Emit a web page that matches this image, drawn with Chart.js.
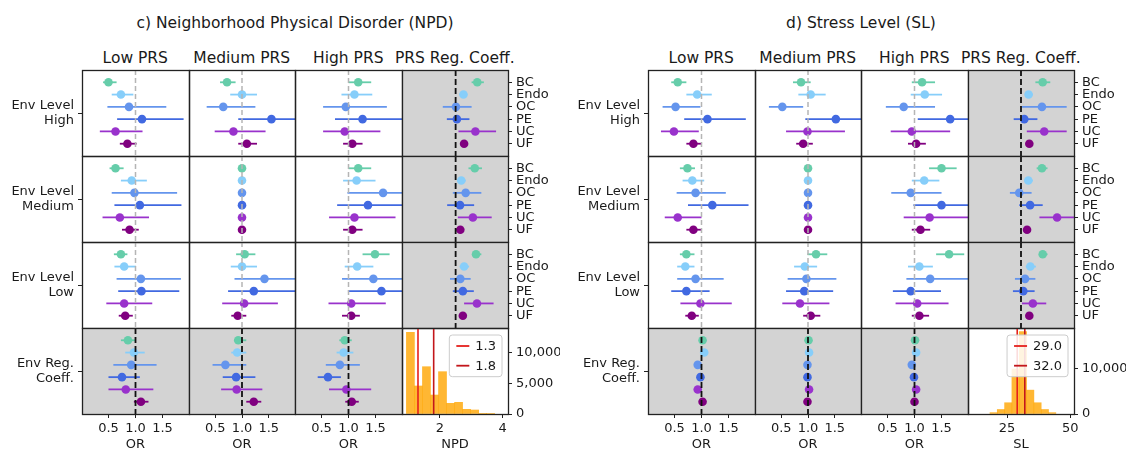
<!DOCTYPE html>
<html>
<head>
<meta charset="utf-8">
<script src="https://cdn.jsdelivr.net/npm/chart.js@4.4.1/dist/chart.umd.min.js"></script>
<style>
    html, body { margin: 0; padding: 0; background: #fff; }
    #figura {
        position: relative;
        width: 1130px;
        height: 450px;
        overflow: hidden;
        font-family: "DejaVu Sans", sans-serif;
        color: #1a1a1a;
    }
    .titulo {
        position: absolute;
        font-size: 15.5px;
        white-space: nowrap;
        transform: translate(-50%, -50%);
    }
    #figura canvas { position: absolute; }
</style>
</head>
<body>
<div id="figura"></div>
<script>
var categories = ["BC", "Endo", "OC", "PE", "UC", "UF"];
var categoryColors = ["#66cdaa", "#87cefa", "#6495ed", "#4169e1", "#9932cc", "#800080"];
var columnTitles = ["Low PRS", "Medium PRS", "High PRS", "PRS Reg. Coeff."];
var rowLabels = [["Env Level", "High"], ["Env Level", "Medium"], ["Env Level", "Low"], ["Env Reg.", "Coeff."]];
var orTicks = [0.5, 1.0, 1.5];

// each row: [estimate, lower, upper] for BC, Endo, OC, PE, UC, UF
// c) NPD
var npdHighLow  = [[0.50, 0.40, 0.65], [0.73, 0.56, 0.96], [0.88, 0.48, 1.57], [1.12, 0.66, 1.89], [0.63, 0.34, 1.13], [0.85, 0.71, 1.02]];
var npdHighMed  = [[0.72, 0.59, 0.88], [1.00, 0.78, 1.28], [0.65, 0.34, 1.25], [1.55, 0.93, 2.20], [0.84, 0.49, 1.44], [1.09, 0.93, 1.28]];
var npdHighHigh = [[1.18, 1.00, 1.42], [1.11, 0.87, 1.44], [0.95, 0.53, 1.71], [1.26, 0.75, 2.10], [0.93, 0.53, 1.59], [1.07, 0.90, 1.26]];
var npdHighReg  = [[3.19, 3.01, 3.40], [2.75, 2.62, 2.87], [2.51, 2.09, 3.01], [2.54, 2.22, 2.94], [3.13, 2.59, 3.79], [2.77, 2.65, 2.89]];

var npdMedLow  = [[0.63, 0.52, 0.78], [0.93, 0.73, 1.21], [0.98, 0.56, 1.77], [1.08, 0.61, 1.85], [0.71, 0.39, 1.25], [0.89, 0.75, 1.06]];
var npdMedMed  = [[1, 1, 1], [1, 1, 1], [1, 1, 1], [1, 1, 1], [1, 1, 1], [1, 1, 1]];
var npdMedHigh = [[1.18, 1.00, 1.42], [1.15, 0.90, 1.50], [1.64, 0.98, 2.10], [1.36, 0.79, 2.10], [1.11, 0.64, 1.87], [1.07, 0.90, 1.26]];
var npdMedReg  = [[3.11, 2.91, 3.34], [2.68, 2.55, 2.82], [2.82, 2.41, 3.32], [2.64, 2.23, 3.09], [3.05, 2.57, 3.65], [2.65, 2.55, 2.76]];

var npdLowLow  = [[0.73, 0.60, 0.85], [0.79, 0.61, 1.01], [1.10, 0.65, 1.84], [1.11, 0.68, 1.81], [0.79, 0.46, 1.31], [0.81, 0.69, 0.95]];
var npdLowMed  = [[1.05, 0.89, 1.25], [1.00, 0.79, 1.28], [1.42, 0.86, 2.10], [1.22, 0.74, 2.10], [1.04, 0.63, 1.67], [0.92, 0.80, 1.08]];
var npdLowHigh = [[1.49, 1.26, 1.76], [1.16, 0.93, 1.46], [1.46, 0.88, 2.10], [1.61, 0.99, 2.10], [1.05, 0.63, 1.69], [1.05, 0.88, 1.21]];
var npdLowReg  = [[3.15, 3.05, 3.32], [2.77, 2.63, 2.93], [2.65, 2.32, 2.98], [2.73, 2.41, 3.08], [3.18, 2.77, 3.71], [2.73, 2.65, 2.82]];

var npdEnvLow  = [[0.86, 0.73, 0.99], [0.97, 0.81, 1.17], [0.92, 0.59, 1.39], [0.75, 0.50, 1.08], [0.82, 0.50, 1.33], [1.10, 0.97, 1.24]];
var npdEnvMed  = [[0.93, 0.85, 1.08], [0.91, 0.80, 1.08], [0.69, 0.45, 1.08], [0.89, 0.64, 1.25], [0.90, 0.61, 1.38], [1.22, 1.08, 1.36]];
var npdEnvHigh = [[0.93, 0.83, 1.06], [0.91, 0.78, 1.09], [0.84, 0.58, 1.21], [0.62, 0.43, 0.86], [0.96, 0.64, 1.42], [1.06, 0.94, 1.19]];

var npdBinEdges = [0.93, 1.186, 1.442, 1.698, 1.954, 2.21, 2.466, 2.722, 2.978, 3.234, 3.49, 3.746];
var npdCounts = [13300, 4560, 7700, 3090, 6890, 1740, 1900, 760, 650, 110, 100];
var npdCutoffs = [1.3, 1.8];
var npdTicks = [2, 4];
var npdCountTicks = [0, 5000, 10000];
var npdRegReference = 2.5;

// d) SL
var slHighLow  = [[0.56, 0.44, 0.72], [0.92, 0.72, 1.19], [0.52, 0.28, 0.98], [1.11, 0.68, 1.82], [0.49, 0.25, 0.95], [0.85, 0.72, 1.01]];
var slHighMed  = [[0.87, 0.72, 1.05], [1.05, 0.82, 1.33], [0.52, 0.27, 0.91], [1.52, 0.95, 2.20], [0.99, 0.59, 1.69], [0.91, 0.78, 1.09]];
var slHighHigh = [[1.14, 0.95, 1.38], [1.19, 0.93, 1.51], [0.80, 0.47, 1.38], [1.66, 1.06, 2.20], [0.95, 0.56, 1.66], [1.03, 0.88, 1.21]];
var slHighReg  = [[39.1, 36.2, 42.1], [33.5, 32.1, 35.2], [38.8, 30.9, 48.6], [31.8, 27.6, 37.0], [39.7, 32.8, 48.6], [33.8, 32.4, 35.2]];

var slMedLow  = [[0.74, 0.60, 0.88], [0.83, 0.65, 1.05], [0.89, 0.54, 1.45], [1.20, 0.75, 1.87], [0.56, 0.32, 1.00], [0.85, 0.72, 1.01]];
var slMedMed  = [[1, 1, 1], [1, 1, 1], [1, 1, 1], [1, 1, 1], [1, 1, 1], [1, 1, 1]];
var slMedHigh = [[1.50, 1.27, 1.78], [1.18, 0.95, 1.46], [0.93, 0.57, 1.50], [1.50, 0.98, 2.20], [1.28, 0.80, 2.20], [1.11, 0.95, 1.29]];
var slMedReg  = [[38.8, 36.7, 41.0], [33.4, 31.9, 35.2], [29.8, 26.1, 34.7], [34.1, 29.8, 39.1], [44.8, 37.8, 53.0], [32.9, 31.6, 34.4]];

var slLowLow  = [[0.72, 0.60, 0.87], [0.70, 0.55, 0.87], [0.89, 0.55, 1.41], [0.72, 0.44, 1.15], [0.98, 0.61, 1.56], [0.82, 0.70, 0.95]];
var slLowMed  = [[1.15, 0.99, 1.36], [0.94, 0.74, 1.17], [0.97, 0.62, 1.53], [0.93, 0.59, 1.47], [0.85, 0.52, 1.40], [1.05, 0.91, 1.23]];
var slLowHigh = [[1.64, 1.40, 1.92], [1.09, 0.88, 1.34], [1.29, 0.85, 2.20], [0.93, 0.60, 1.49], [1.05, 0.65, 1.63], [1.09, 0.95, 1.27]];
var slLowReg  = [[39.1, 37.8, 41.0], [34.2, 32.4, 36.4], [32.1, 28.1, 36.2], [31.4, 27.3, 35.9], [35.2, 30.9, 40.5], [33.8, 32.6, 34.9]];

var slEnvLow  = [[1.02, 1.00, 1.04], [1.05, 1.03, 1.07], [0.93, 0.91, 0.95], [0.98, 0.96, 1.00], [0.93, 0.91, 0.95], [1.02, 1.00, 1.04]];
var slEnvMed  = [[1.01, 0.99, 1.03], [1.02, 1.00, 1.04], [0.99, 0.97, 1.01], [0.99, 0.97, 1.01], [1.02, 1.00, 1.04], [0.99, 0.97, 1.01]];
var slEnvHigh = [[1.01, 0.99, 1.03], [1.03, 1.01, 1.05], [0.95, 0.93, 0.97], [0.99, 0.97, 1.01], [1.03, 1.01, 1.05], [1.00, 0.98, 1.02]];

var slBinEdges = [18.2, 21.1, 24.0, 26.9, 29.8, 32.7, 35.6, 38.5, 41.4, 44.3];
var slCounts = [300, 1000, 2500, 10000, 18300, 5300, 2500, 1000, 300];
var slCutoffs = [29.0, 32.0];
var slTicks = [25, 50];
var slCountTicks = [0, 10000];
var slRegReference = 30.5;

// layout
var GRID_TOP = 70;
var ROW_H = 86;
var COL_W = 106.5;
var MARGIN = 20;
var LEFT_AXIS = 72;
var RIGHT_AXIS = 52;
var BOTTOM_AXIS = 38;
var OR_MIN = 0.01;
var OR_MAX = 1.99;
var cutoffColors = ["#e5201c", "#c3161b"];

var panels = [
    {
        title: "c) Neighborhood Physical Disorder (NPD)", left: 82, name: "NPD",
        cells: [
            [npdHighLow, npdHighMed, npdHighHigh, npdHighReg],
            [npdMedLow, npdMedMed, npdMedHigh, npdMedReg],
            [npdLowLow, npdLowMed, npdLowHigh, npdLowReg],
            [npdEnvLow, npdEnvMed, npdEnvHigh, null]
        ],
        edges: npdBinEdges, counts: npdCounts, cutoffs: npdCutoffs, ticks: npdTicks,
        countTicks: npdCountTicks, reference: npdRegReference, xMin: 0.79, xMax: 4.17, yMax: 14000
    },
    {
        title: "d) Stress Level (SL)", left: 648, name: "SL",
        cells: [
            [slHighLow, slHighMed, slHighHigh, slHighReg],
            [slMedLow, slMedMed, slMedHigh, slMedReg],
            [slLowLow, slLowMed, slLowHigh, slLowReg],
            [slEnvLow, slEnvMed, slEnvHigh, null]
        ],
        edges: slBinEdges, counts: slCounts, cutoffs: slCutoffs, ticks: slTicks,
        countTicks: slCountTicks, reference: slRegReference, xMin: 9.5, xMax: 51.5, yMax: 19100
    }
];

Chart.defaults.font.family = "'DejaVu Sans', sans-serif";
Chart.defaults.font.size = 13;
Chart.defaults.color = "#1a1a1a";

var molduraCelula = {
    id: "moldura",
    beforeDraw: function (chart, args, opts) {
        var a = chart.chartArea;
        if (opts.fundo) {
            chart.ctx.save();
            chart.ctx.fillStyle = opts.fundo;
            chart.ctx.fillRect(a.left, a.top, a.right - a.left, a.bottom - a.top);
            chart.ctx.restore();
        }
    },
    afterDraw: function (chart) {
        var a = chart.chartArea;
        var ctx = chart.ctx;
        ctx.save();
        ctx.strokeStyle = "#222222";
        ctx.lineWidth = 1.3;
        ctx.strokeRect(a.left + 0.5, a.top + 0.5, a.right - a.left, a.bottom - a.top);
        ctx.restore();
    }
};

var legendaCaixa = {
    id: "legendaCaixa",
    afterDatasetsDraw: function (chart, args, opts) {
        if (!opts.display) return;
        var ctx = chart.ctx;
        var a = chart.chartArea;
        var itens = chart.data.datasets.filter(function (d) { return d.label; });
        ctx.save();
        ctx.font = "13px 'DejaVu Sans'";
        var larguraTexto = 0;
        itens.forEach(function (d) { larguraTexto = Math.max(larguraTexto, ctx.measureText(d.label).width); });
        var w = 26 + larguraTexto + 6;
        var h = 22 + 19.7 * (itens.length - 1);
        var x = a.right - 6 - w;
        var y = a.top + 7;
        ctx.beginPath();
        if (ctx.roundRect) ctx.roundRect(x, y, w, h, 3); else ctx.rect(x, y, w, h);
        ctx.fillStyle = "rgba(255,255,255,0.85)";
        ctx.fill();
        ctx.strokeStyle = "#cccccc";
        ctx.lineWidth = 1;
        ctx.stroke();
        itens.forEach(function (d, k) {
            var cy = y + 11 + 19.7 * k;
            ctx.beginPath();
            ctx.moveTo(x + 7, cy);
            ctx.lineTo(x + 20, cy);
            ctx.strokeStyle = d.borderColor;
            ctx.lineWidth = 1.8;
            ctx.stroke();
            ctx.fillStyle = "#1a1a1a";
            ctx.textBaseline = "middle";
            ctx.textAlign = "left";
            ctx.fillText(d.label, x + 26, cy + 1);
        });
        ctx.restore();
    }
};

// fixed axis sizes, only for axes that are shown
function larguraFixa(valor) {
    return function (axis) { if (axis.options.display) axis.width = valor; };
}
function alturaFixa(valor) {
    return function (axis) { if (axis.options.display) axis.height = valor; };
}

function criarCanvas(panel, r, c) {
    var cellLeft = Math.round(panel.left + c * COL_W);
    var cellRight = Math.round(panel.left + (c + 1) * COL_W);
    var cellTop = GRID_TOP + r * ROW_H;
    var padLeft = MARGIN + (c === 0 ? LEFT_AXIS : 0);
    var padRight = MARGIN + (c === 3 ? RIGHT_AXIS : 0);
    var padBottom = MARGIN + (r === 3 ? BOTTOM_AXIS : 0);
    var canvas = document.createElement("canvas");
    canvas.width = cellRight - cellLeft + padLeft + padRight;
    canvas.height = ROW_H + MARGIN + padBottom;
    canvas.style.width = canvas.width + "px";
    canvas.style.height = canvas.height + "px";
    canvas.style.left = (cellLeft - padLeft) + "px";
    canvas.style.top = (cellTop - MARGIN) + "px";
    document.getElementById("figura").appendChild(canvas);
    return canvas;
}

function eixoMarcas() {
    return { drawOnChartArea: false, drawTicks: true, tickLength: 4, tickColor: "#222222", tickWidth: 1 };
}

function plotarCelula(panel, r, c) {
    var values = panel.cells[r][c];
    var isReg = c === 3;
    var fundoCinza = isReg || r === 3;
    var ref = isReg ? panel.reference : 1.0;
    var canvas = criarCanvas(panel, r, c);

    var datasets = [];
    datasets.push({
        data: [{ x: ref, y: -1 }, { x: ref, y: 6 }],
        showLine: true,
        borderColor: fundoCinza ? "#111111" : "#b5b5b5",
        borderWidth: fundoCinza ? 1.8 : 1.5,
        borderDash: fundoCinza ? [6, 3] : [5, 3],
        pointRadius: 0
    });
    datasets.push({
        data: values.map(function (v, i) { return { x: v[0], y: i }; }),
        pointBackgroundColor: categoryColors,
        pointBorderWidth: 0,
        pointRadius: 4.3
    });
    for (var i = 0; i < values.length; i++) {
        datasets.push({
            data: [{ x: values[i][1], y: i }, { x: values[i][2], y: i }],
            showLine: true,
            borderColor: categoryColors[i],
            borderWidth: 1.8,
            pointRadius: 0
        });
    }

    new Chart(canvas, {
        type: "scatter",
        data: { datasets: datasets },
        plugins: [molduraCelula],
        options: {
            responsive: false,
            animation: false,
            events: [],
            devicePixelRatio: 1,
            layout: { padding: MARGIN },
            plugins: {
                legend: { display: false },
                tooltip: { enabled: false },
                moldura: { fundo: fundoCinza ? "#d3d3d3" : null }
            },
            scales: {
                x: {
                    type: "linear",
                    min: isReg ? panel.xMin : OR_MIN,
                    max: isReg ? panel.xMax : OR_MAX,
                    display: r === 3,
                    border: { display: false },
                    grid: eixoMarcas(),
                    ticks: { padding: 3, maxRotation: 0, autoSkip: false, callback: function (v) { return v.toFixed(1); } },
                    title: { display: true, text: "OR", padding: { top: 0, bottom: 0 } },
                    afterBuildTicks: function (axis) { axis.ticks = orTicks.map(function (v) { return { value: v }; }); },
                    afterFit: alturaFixa(BOTTOM_AXIS)
                },
                y: {
                    type: "linear",
                    min: -1,
                    max: 6,
                    reverse: true,
                    position: "left",
                    display: c === 0,
                    border: { display: false },
                    grid: eixoMarcas(),
                    ticks: { padding: 4, autoSkip: false, callback: function () { return rowLabels[r]; } },
                    afterBuildTicks: function (axis) { axis.ticks = [{ value: 2.5 }]; },
                    afterFit: larguraFixa(LEFT_AXIS)
                },
                y2: {
                    type: "linear",
                    min: -1,
                    max: 6,
                    reverse: true,
                    position: "right",
                    display: isReg,
                    border: { display: false },
                    grid: eixoMarcas(),
                    ticks: { padding: 4, autoSkip: false, callback: function (v) { return categories[v]; } },
                    afterBuildTicks: function (axis) { axis.ticks = categories.map(function (n, k) { return { value: k }; }); },
                    afterFit: larguraFixa(RIGHT_AXIS)
                }
            }
        }
    });
}

function plotarHistograma(panel) {
    var canvas = criarCanvas(panel, 3, 3);
    var barras = [];
    for (var i = 0; i < panel.counts.length; i++) {
        barras.push({ x: (panel.edges[i] + panel.edges[i + 1]) / 2, y: panel.counts[i] });
    }

    var datasets = panel.cutoffs.map(function (v, k) {
        return {
            type: "line",
            label: v.toFixed(1),
            data: [{ x: v, y: 0 }, { x: v, y: panel.yMax }],
            borderColor: cutoffColors[k],
            borderWidth: 1.6,
            pointRadius: 0
        };
    });
    datasets.push({
        type: "bar",
        data: barras,
        backgroundColor: "rgba(255,165,0,0.8)",
        borderWidth: 0,
        barPercentage: 1,
        categoryPercentage: 1
    });

    new Chart(canvas, {
        type: "bar",
        data: { datasets: datasets },
        plugins: [molduraCelula, legendaCaixa],
        options: {
            responsive: false,
            animation: false,
            events: [],
            devicePixelRatio: 1,
            layout: { padding: MARGIN },
            plugins: {
                legend: { display: false },
                tooltip: { enabled: false },
                moldura: { fundo: null },
                legendaCaixa: { display: true }
            },
            scales: {
                x: {
                    type: "linear",
                    min: panel.xMin,
                    max: panel.xMax,
                    offset: false,
                    border: { display: false },
                    grid: Object.assign(eixoMarcas(), { offset: false }),
                    ticks: { padding: 3, maxRotation: 0, autoSkip: false, callback: function (v) { return String(v); } },
                    title: { display: true, text: panel.name, padding: { top: 0, bottom: 0 } },
                    afterBuildTicks: function (axis) { axis.ticks = panel.ticks.map(function (v) { return { value: v }; }); },
                    afterFit: alturaFixa(BOTTOM_AXIS)
                },
                y: {
                    type: "linear",
                    min: 0,
                    max: panel.yMax,
                    position: "right",
                    border: { display: false },
                    grid: eixoMarcas(),
                    ticks: { padding: 4, autoSkip: false, callback: function (v) { return v.toLocaleString("en-US"); } },
                    afterBuildTicks: function (axis) { axis.ticks = panel.countTicks.map(function (v) { return { value: v }; }); },
                    afterFit: larguraFixa(RIGHT_AXIS)
                }
            }
        }
    });
}

function adicionarTexto(texto, x, y) {
    var div = document.createElement("div");
    div.className = "titulo";
    div.textContent = texto;
    div.style.left = x + "px";
    div.style.top = y + "px";
    document.getElementById("figura").appendChild(div);
}

function montarFigura() {
    panels.forEach(function (panel) {
        adicionarTexto(panel.title, panel.left + 2 * COL_W, 23);
        for (var c = 0; c < 4; c++) {
            adicionarTexto(columnTitles[c], panel.left + (c + 0.5) * COL_W, 58);
        }
        for (var r = 0; r < 4; r++) {
            for (var c2 = 0; c2 < 4; c2++) {
                if (r === 3 && c2 === 3) {
                    plotarHistograma(panel);
                } else {
                    plotarCelula(panel, r, c2);
                }
            }
        }
    });
}

montarFigura();
</script>
</body>
</html>
